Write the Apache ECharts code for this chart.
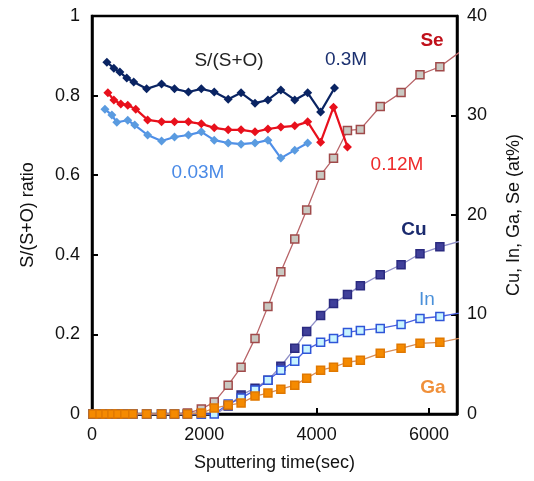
<!DOCTYPE html>
<html>
<head>
<meta charset="utf-8">
<script src="https://cdn.jsdelivr.net/npm/echarts@6/dist/echarts.min.js"></script>
<style>
  html, body { margin: 0; padding: 0; background: #fff; }
  #chart { width: 534px; height: 481px; }
</style>
</head>
<body>
<div id="chart"></div>
<script>
// S/(S+O) 比值 - 三个浓度各自的时间点(sec)
const tDark = [265, 389, 496, 619, 743, 973, 1239, 1469, 1717, 1947, 2177, 2425, 2655, 2903, 3133, 3363, 3611, 3841, 4071, 4319];
const tRed  = [283, 389, 513, 637, 779, 991, 1239, 1469, 1717, 1947, 2177, 2425, 2655, 2903, 3133, 3363, 3611, 3841, 4071, 4301, 4549];
const tBlue = [230, 354, 442, 637, 761, 991, 1239, 1469, 1717, 1947, 2177, 2425, 2655, 2903, 3133, 3363, 3611, 3841];

const ratio03M  = [0.884, 0.869, 0.859, 0.844, 0.834, 0.817, 0.829, 0.817, 0.809, 0.817, 0.809, 0.791, 0.807, 0.781, 0.789, 0.814, 0.789, 0.807, 0.759, 0.819];
const ratio012M = [0.807, 0.789, 0.779, 0.776, 0.766, 0.739, 0.734, 0.734, 0.734, 0.729, 0.719, 0.714, 0.714, 0.709, 0.716, 0.721, 0.724, 0.734, 0.683, 0.771, 0.671];
const ratio003M = [0.766, 0.751, 0.733, 0.738, 0.726, 0.701, 0.686, 0.696, 0.701, 0.709, 0.688, 0.681, 0.678, 0.681, 0.688, 0.643, 0.663, 0.681];

// 元素含量 (at%) 的时间点, 最后一个点在坐标轴外(被裁剪)
const tElem = [18, 142, 248, 354, 460, 584, 726, 973, 1239, 1469, 1699, 1947, 2177, 2425, 2655, 2903, 3133, 3363, 3611, 3823, 4071, 4301, 4549, 4779, 5133, 5504, 5841, 6195, 6700];
const se = [0, 0, 0, 0, 0, 0, 0, 0, 0, 0, 0.1, 0.5, 1.2, 2.9, 4.7, 7.6, 10.8, 14.3, 17.6, 20.5, 24.0, 25.7, 28.5, 28.6, 30.9, 32.3, 34.1, 34.9, 37.0];
const cu = [0, 0, 0, 0, 0, 0, 0, 0, 0, 0, 0, 0, -0.1, 0.8, 1.9, 2.6, 3.4, 4.8, 6.6, 8.3, 9.9, 11.1, 12.0, 12.9, 14.0, 15.0, 16.1, 16.8, 17.6];
const inn = [0, 0, 0, 0, 0, 0, 0, 0, 0, 0, 0, 0, 0, 1.0, 1.6, 2.4, 3.4, 4.4, 5.3, 6.5, 7.2, 7.6, 8.2, 8.4, 8.6, 9.0, 9.6, 9.8, 10.3];
const ga = [0, 0, 0, 0, 0, 0, 0, 0, 0, 0, 0, 0.1, 0.6, 0.9, 1.1, 1.8, 2.1, 2.5, 2.9, 3.6, 4.4, 4.7, 5.2, 5.4, 6.1, 6.6, 7.1, 7.2, 7.8];

// 刻度
const xTicks = [0, 2000, 4000, 6000];
const leftTicks = [0, 0.2, 0.4, 0.6, 0.8, 1];
const rightTicks = [0, 10, 20, 30, 40];

const pairs = (t, v) => t.map((x, i) => [x, v[i]]);
const FONT = '"Liberation Sans", Arial, sans-serif';

let chart = echarts.init(document.getElementById('chart'));

// 比值曲线 (菱形点)
function ratioLine(name, t, v, lineColor, dotColor) {
  return {
    name: name, type: 'line', yAxisIndex: 0, z: 5,
    data: pairs(t, v),
    symbol: 'diamond', symbolSize: 9,
    lineStyle: { color: lineColor, width: 2.2 },
    itemStyle: { color: dotColor, borderWidth: 0 }
  };
}
// 元素曲线 (方块点)
function elemLine(name, v, lineColor, fill, border, z) {
  return {
    name: name, type: 'line', yAxisIndex: 1, z: z,
    data: pairs(tElem, v),
    symbol: 'rect', symbolSize: 8,
    lineStyle: { color: lineColor, width: 1.3 },
    itemStyle: { color: fill, borderColor: border, borderWidth: 1.5 }
  };
}

function label(text, x, y, color, bold) {
  return {
    type: 'text', x: x, y: y, z: 100,
    style: {
      text: text, fill: color,
      font: (bold ? 'bold ' : '') + '19px ' + FONT,
      textAlign: 'center', textVerticalAlign: 'middle'
    }
  };
}

let option = {
  animation: false,
  backgroundColor: '#fff',
  grid: {
    left: 92, right: 77, top: 16, bottom: 67,
    show: true, borderColor: '#000', borderWidth: 2.5, backgroundColor: 'transparent'
  },
  xAxis: {
    type: 'value', min: 0, max: 6500, interval: 2000,
    name: 'Sputtering time(sec)', nameLocation: 'middle', nameGap: 40,
    nameTextStyle: { fontSize: 18, color: '#111', fontFamily: FONT },
    axisLine: { show: true, onZero: false, lineStyle: { color: '#000', width: 2.5 } },
    axisTick: { show: true, inside: true, length: 6, lineStyle: { color: '#000', width: 2 } },
    axisLabel: {
      fontSize: 18, color: '#111', fontFamily: FONT, margin: 12, showMaxLabel: false,
      formatter: v => xTicks.includes(v) ? String(v) : ''
    },
    splitLine: { show: false }
  },
  yAxis: [
    {
      type: 'value', min: 0, max: 1, interval: 0.2, position: 'left',
      name: 'S/(S+O) ratio', nameLocation: 'middle', nameGap: 55,
      nameTextStyle: { fontSize: 18, color: '#111', fontFamily: FONT },
      axisLine: { show: true, lineStyle: { color: '#000', width: 2.5 } },
      axisTick: { show: true, inside: true, length: 6, lineStyle: { color: '#000', width: 2 } },
      axisLabel: {
        fontSize: 18, color: '#111', fontFamily: FONT, margin: 12,
        formatter: v => leftTicks.some(t => Math.abs(t - v) < 1e-6) ? String(+v.toFixed(1)) : ''
      },
      splitLine: { show: false }
    },
    {
      type: 'value', min: 0, max: 40, interval: 10, position: 'right',
      name: 'Cu, In, Ga, Se (at%)', nameLocation: 'middle', nameGap: 48,
      nameTextStyle: { fontSize: 18, color: '#111', fontFamily: FONT },
      axisLine: { show: true, lineStyle: { color: '#000', width: 2.5 } },
      axisTick: { show: true, inside: true, length: 6, lineStyle: { color: '#000', width: 2 } },
      axisLabel: {
        fontSize: 18, color: '#111', fontFamily: FONT, margin: 10,
        formatter: v => rightTicks.includes(v) ? String(v) : ''
      },
      splitLine: { show: false }
    }
  ],
  graphic: [
    label('S/(S+O)', 229, 61, '#222', false),
    label('0.3M', 346, 60, '#1c3170', false),
    label('Se', 432, 41, '#c0101a', true),
    label('0.12M', 397, 165, '#ee2a2a', false),
    label('0.03M', 198, 173, '#4a8ae6', false),
    label('Cu', 414, 230, '#1a2a6e', true),
    label('In', 427, 300, '#4a90d9', false),
    label('Ga', 433, 388, '#f0903a', true)
  ],
  series: [
    elemLine('Se', se, '#b86468', '#c9c9c2', '#a04a4a', 2),
    elemLine('Cu', cu, '#9090c8', '#40409a', '#2a2a80', 3),
    elemLine('In', inn, '#4a60e0', '#c8f4ff', '#2f55d8', 3),
    elemLine('Ga', ga, '#d88c55', '#f58a00', '#e07800', 4),
    ratioLine('0.03M', tBlue, ratio003M, '#4f8fe8', '#5a9be0'),
    ratioLine('0.12M', tRed, ratio012M, '#e8101c', '#e8101c'),
    ratioLine('0.3M', tDark, ratio03M, '#0a2463', '#0a2463')
  ]
};

chart.setOption(option);
</script>
</body>
</html>
